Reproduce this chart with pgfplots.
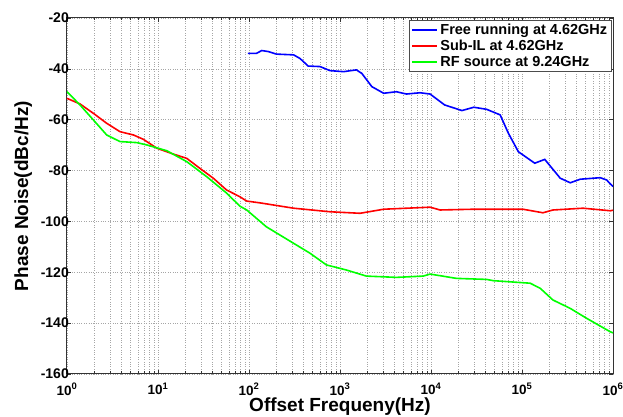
\documentclass[border=0pt]{standalone}
\usepackage{fontspec}
\setmainfont{Liberation Sans}
\usepackage{pgfplots}
\pgfplotsset{compat=1.18}
\definecolor{mblue}{RGB}{0,0,255}
\definecolor{mred}{RGB}{255,0,0}
\definecolor{mgreen}{RGB}{0,255,0}
\begin{document}
\begin{tikzpicture}
\begin{axis}[
  scale only axis,
  width=546pt, height=356pt,
  xmode=log,
  xmin=1, xmax=1e6, ymin=-160, ymax=-20,
  ytick={-160,-140,...,-20},
  xtick={1,10,100,1000,10000,100000,1000000},
  xticklabels={10\textsuperscript{0},10\textsuperscript{1},10\textsuperscript{2},10\textsuperscript{3},10\textsuperscript{4},10\textsuperscript{5},10\textsuperscript{6}},
  /pgf/number format/assume math mode=true,
  yticklabel style={font=\fontsize{14}{16}\selectfont\bfseries, inner sep=1pt, xshift=3pt},
  xticklabel style={font=\fontsize{13.5}{15}\selectfont\bfseries, inner sep=2pt, yshift=-7pt},
  xlabel={Offset Frequeny(Hz)},
  ylabel={Phase Noise(dBc/Hz)},
  label style={font=\fontsize{19}{21}\selectfont\bfseries, inner sep=0pt},
  xlabel style={at={(axis description cs:0.5,-0.092)}, anchor=center},
  ylabel style={at={(axis description cs:-0.08,0.5)}, anchor=center},
  grid=both,
  major grid style={gray!70, dotted, line width=0.6pt},
  minor grid style={gray!70, dotted, line width=0.6pt},
  tick align=inside,
  major tick length=4pt, minor tick length=2.5pt,
  axis line style={line width=1pt, black!80},
  tick style={black!80, line width=0.6pt},
  legend style={at={(1,1)}, xshift=-1.5pt, yshift=-2.5pt, anchor=north east, font=\fontsize{14.5}{17}\selectfont\bfseries, draw=black!70, line width=0.6pt, inner xsep=2pt, inner ysep=1.5pt},
  legend cell align=left,
  legend image code/.code={\draw[#1] (0pt,0.5pt) -- (25pt,0.5pt);},
]
\addlegendimage{color=mblue, line width=2.2pt}
\addlegendentry{Free running at 4.62GHz}
\addlegendimage{color=mred, line width=2.2pt}
\addlegendentry{Sub-IL at 4.62GHz}
\addlegendimage{color=mgreen, line width=2.2pt}
\addlegendentry{RF source at 9.24GHz}
\addplot[forget plot, color=mblue, line width=1.6pt] coordinates {
(97,-33.9) (121,-33.9) (138,-32.8) (163,-33.2) (200,-34.2) (309,-34.5) (363,-35.9) (447,-38.9) (603,-39.1) (776,-40.7) (1096,-41.1) (1514,-40.4) (1738,-41.8) (2239,-47) (3020,-49.6) (4169,-49) (5370,-49.9) (7586,-49.4) (9772,-49.9) (14125,-54.2) (21878,-56.4) (29512,-55.1) (40738,-55.9) (57544,-58.1) (70795,-65.3) (91201,-72.6) (138038,-77.1) (177828,-75.6) (263027,-83.0) (338844,-84.8) (436516,-83.4) (724436,-82.8) (851138,-83.7) (1000000,-86.3)
};
\addplot[forget plot, color=mred, line width=1.6pt] coordinates {
(1,-51.6) (1.39,-53.8) (1.95,-57.5) (2.73,-61.4) (3.82,-64.7) (5.37,-66) (6.9,-67.7) (9.7,-71.2) (14.7,-73.5) (20.7,-75.2) (28.8,-79.1) (40.5,-83) (56.5,-87.6) (79.4,-90.3) (94.4,-92.0) (132,-92.7) (309,-94.8) (776,-96.2) (1660,-96.8) (3020,-95.2) (9772,-94.4) (12589,-95.5) (29512,-95.2) (102329,-95.2) (169824,-96.6) (218776,-95.5) (467735,-94.8) (933254,-95.8) (1000000,-95.6)
};
\addplot[forget plot, color=mgreen, line width=1.6pt] coordinates {
(1,-49) (1.39,-54.2) (1.95,-60.1) (2.73,-66) (3.82,-68.6) (5.83,-69) (7.5,-69.9) (12.5,-72.2) (20.7,-76.5) (34.3,-82.4) (56.9,-88.9) (79.4,-94.0) (94.4,-95.5) (155,-102.1) (309,-108.6) (468,-112.5) (708,-117.1) (1175,-119.1) (1950,-121.5) (4169,-122) (8222,-121.5) (9772,-120.7) (19055,-122.4) (40738,-122.8) (48417,-123.3) (123027,-124.3) (158489,-126.3) (218776,-130.9) (338844,-134.2) (512861,-138.1) (933254,-143.4) (1000000,-143.8)
};
\end{axis}
\pgfresetboundingbox
\useasboundingbox (current axis.south west) ++(-67pt,-43pt) rectangle ++(623pt,417pt);
\end{tikzpicture}
\end{document}
